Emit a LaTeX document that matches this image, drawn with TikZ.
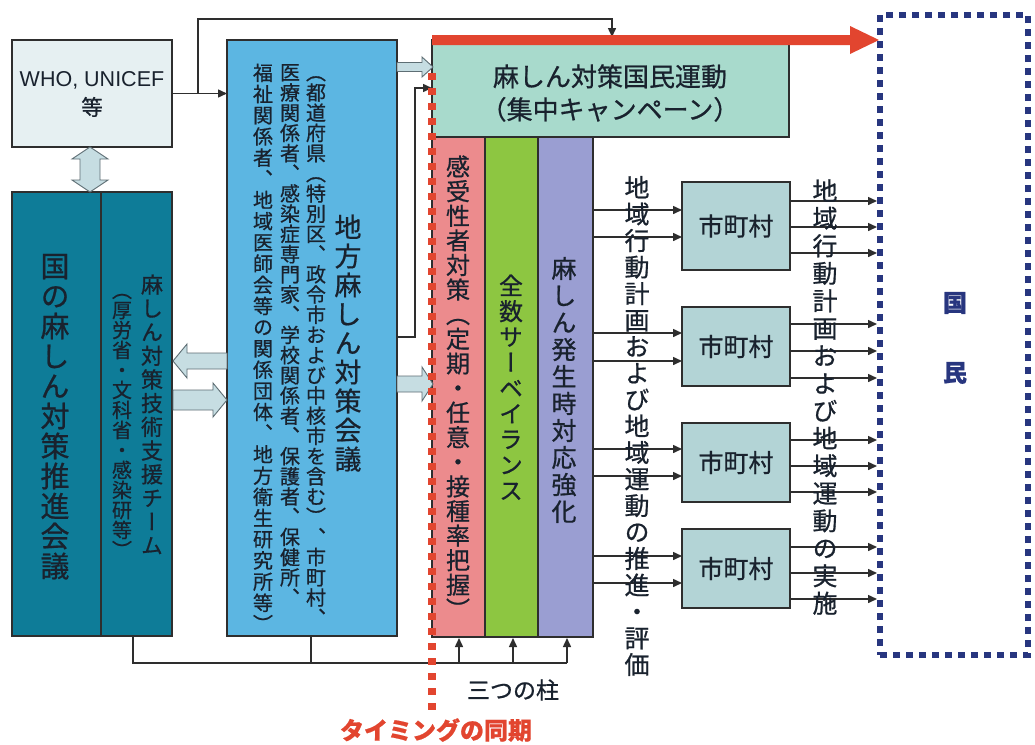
\documentclass[tikz,border=0pt]{standalone}
\usepackage{fontspec}
\setmainfont{Liberation Sans}
\newfontfamily\jp[FakeBold=0.7]{Noto Sans CJK JP}
\newfontfamily\jpv[RawFeature=+vert,FakeBold=0.7]{Noto Sans CJK JP}
\usetikzlibrary{arrows.meta}
\definecolor{tealbox}{HTML}{0E7C98}
\definecolor{whofill}{HTML}{E6F0F2}
\definecolor{locfill}{HTML}{5CB6E2}
\definecolor{campfill}{HTML}{A8DACC}
\definecolor{pinkfill}{HTML}{EC8B8D}
\definecolor{greenfill}{HTML}{8DC641}
\definecolor{purplefill}{HTML}{9A9ED2}
\definecolor{munifill}{HTML}{B3D4D6}
\definecolor{blkfill}{HTML}{C6DDE2}
\definecolor{blkdraw}{HTML}{5E6E74}
\definecolor{redc}{HTML}{E2452F}
\definecolor{navy}{HTML}{28367F}
\definecolor{linec}{HTML}{2E2E2E}
\definecolor{txt}{HTML}{19222E}
\newdimen\vtextra
\makeatletter
\def\vt@end{\vt@end}
\newcommand\vtext[3]{\vbox{\offinterlineskip\jpv\fontsize{#1}{#1}\selectfont
  \vtextra=#2pt\advance\vtextra-#1pt\vtextra=0.5\vtextra
  \vt@loop#3\vt@end}}
\def\vt@loop#1{\ifx#1\vt@end\else\hbox to 1em{\hss\vrule width0pt height\dimexpr.88em+\vtextra\relax depth\dimexpr.12em+\vtextra\relax #1\hss}\expandafter\vt@loop\fi}
\makeatother
\newcommand\barrow[6]{\filldraw[blk] ({#1},{#3-#4}) -- ({#2-#6},{#3-#4}) -- ({#2-#6},{#3-#5}) -- ({#2},{#3}) -- ({#2-#6},{#3+#5}) -- ({#2-#6},{#3+#4}) -- ({#1},{#3+#4}) -- cycle;}
\tikzset{
  box/.style={draw=linec, line width=1.3pt, inner sep=0pt, outer sep=0pt},
  conn/.style={draw=linec, line width=1.5pt},
  arr/.style={conn, -{Triangle[length=9pt,width=8pt]}},
  blk/.style={fill=blkfill, draw=blkdraw, line width=0.9pt},
  vtx/.style={inner sep=0pt, text=txt},
  muni/.style={box, fill=munifill, minimum width=108pt, font=\jp\fontsize{25}{25}\selectfont, text=txt},
}
\begin{document}
\begin{tikzpicture}[x=1pt,y=-1pt]
\useasboundingbox (0,0) rectangle (1035,744);
\fill[white] (0,0) rectangle (1035,744);
% boxes
\node[box, fill=whofill, minimum width=160pt, minimum height=107pt] (who) at (92,93.5) {};
\node[box, fill=tealbox, minimum width=89pt, minimum height=444pt] (nat1) at (56.5,414) {};
\node[box, fill=tealbox, minimum width=71pt, minimum height=444pt] (nat2) at (136.5,414) {};
\node[box, fill=locfill, minimum width=170pt, minimum height=596pt] (loc) at (312,338) {};
\node[box, fill=campfill, minimum width=357pt, minimum height=97pt] (camp) at (610.5,88.5) {};
\node[box, fill=pinkfill, minimum width=53pt, minimum height=500pt] (p1) at (458.5,387) {};
\node[box, fill=greenfill, minimum width=53pt, minimum height=500pt] (p2) at (511.5,387) {};
\node[box, fill=purplefill, minimum width=55pt, minimum height=500pt] (p3) at (565.5,387) {};
\node[muni, minimum height=88pt] (m1) at (736,226) {市町村};
\node[muni, minimum height=79pt] (m2) at (736,346.5) {市町村};
\node[muni, minimum height=79pt] (m3) at (736,462.5) {市町村};
\node[muni, minimum height=79pt] (m4) at (736,568.5) {市町村};
\node[draw=navy, line width=6pt, dash pattern=on 7pt off 6pt, minimum width=148pt, minimum height=640pt, inner sep=0pt] (kok) at (954,335) {};
% block arrows
\filldraw[blk] (80,159) -- (72,159) -- (90,147) -- (108,159) -- (100,159) -- (100,180) -- (108,180) -- (90,192) -- (72,180) -- (80,180) -- cycle;
\barrow{227}{173}{361}{8}{17}{-14}
\barrow{173}{227}{400}{10}{17}{14}
\barrow{397}{433}{384}{8}{17}{11}
\barrow{397}{433}{67}{4.5}{10}{11}
% thin connectors
\draw[arr] (who.east) -- (loc.west |- who.east);
\coordinate (br) at (198,93.5);
\coordinate (tp) at (612,19);
\draw[arr] (br) |- (tp) -- (612,37);
\draw[arr] (loc.east |- 0,337) -| (415,88) -- (camp.west |- 0,88);
\coordinate (bl) at (133,663);
\draw[conn] (nat2.south -| bl) -- (bl) -- (567,663);
\draw[conn] (loc.south -| 311,0) -- (311,663);
\foreach \x in {459,513,567} \draw[arr] (\x,663) -- (\x,638);
\foreach \m/\a/\b in {m1/210/237, m2/333/361, m3/449/476, m4/556/583} {
  \draw[arr] (p3.east |- 0,\a) -- (\m.west |- 0,\a);
  \draw[arr] (p3.east |- 0,\b) -- (\m.west |- 0,\b);
}
\foreach \m/\a/\b/\c in {m1/201/227/253, m2/324/351/378, m3/440/466/492, m4/547/573/599} {
  \foreach \y in {\a,\b,\c} \draw[arr] (\m.east |- 0,\y) -- (kok.west |- 0,\y);
}
% timing line and red arrow
\draw[redc, line width=8pt, dash pattern=on 7pt off 8pt] (432,73) -- (432,712);
\fill[redc] (432,35) -- (850,35) -- (850,26) -- (879,40) -- (850,54) -- (850,45) -- (432,45) -- cycle;
% texts
\node[align=center, text=txt, font=\fontsize{21.5}{29}\selectfont] at (92,94) {WHO, UNICEF\\{\jp 等}};
\node[vtx] at (55,416) {\vtext{29}{30}{国の麻しん対策推進会議}};
\node[vtx] at (152,415) {\vtext{22}{23.7}{麻しん対策技術支援チーム}};
\node[vtx] at (122,420) {\vtext{20}{20}{（厚労省・文科省・感染研等）}};
\node[vtx] at (348,343) {\vtext{27}{29}{地方麻しん対策会議}};
\node[vtx, anchor=north] at (316,62) {\vtext{20}{20.2}{（都道府県（特別区、政令市および中核市を含む）、市町村、}};
\node[vtx, anchor=north] at (290,62) {\vtext{20}{20.2}{医療関係者、感染症専門家、学校関係者、保護者、保健所、}};
\node[vtx, anchor=north] at (263,62) {\vtext{20}{21.2}{福祉関係者、地域医師会等の関係団体、地方衛生研究所等）}};
\node[align=center, text=txt, font=\jp\fontsize{26}{33}\selectfont] at (610,93) {麻しん対策国民運動\\（集中キャンペーン）};
\node[vtx] at (458,388) {\vtext{24}{24.6}{感受性者対策（定期・任意・接種率把握）}};
\node[vtx] at (511,388) {\vtext{24}{25.6}{全数サーベイランス}};
\node[vtx] at (564,390) {\vtext{25}{27}{麻しん発生時対応強化}};
\node[vtx] at (637,426) {\vtext{25}{26.5}{地域行動計画および地域運動の推進・評価}};
\node[vtx] at (825,397) {\vtext{25}{27.5}{地域行動計画および地域運動の実施}};
\node[text=txt, font=\jp\fontsize{23}{23}\selectfont] at (513,690) {三つの柱};
\node[text=redc, font=\jp\bfseries\fontsize{24}{24}\selectfont] at (436,730) {タイミングの同期};
\node[text=navy, font=\jp\bfseries\fontsize{24}{24}\selectfont] at (955,303) {国};
\node[text=navy, font=\jp\bfseries\fontsize{24}{24}\selectfont] at (955,373) {民};
\end{tikzpicture}
\end{document}
